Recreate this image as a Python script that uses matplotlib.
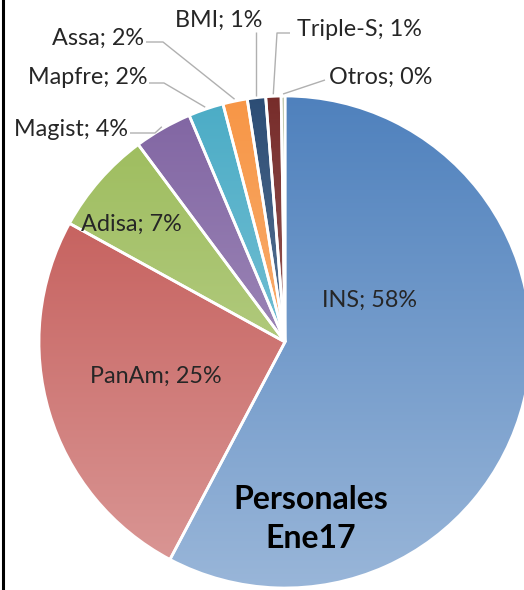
import numpy as np
import matplotlib.pyplot as plt
from matplotlib.colors import to_rgb

labels = ["INS", "PanAm", "Adisa", "Magist", "Mapfre", "Assa", "BMI", "Triple-S", "Otros"]
values = [57.6, 25.2, 6.8, 3.8, 2.3, 1.6, 1.2, 1.0, 0.25]
pct_text = ["58%", "25%", "7%", "4%", "2%", "2%", "1%", "1%", "0%"]
colors = ["#4F81BD", "#C0504D", "#9BBB59", "#8064A2", "#4BACC6",
          "#F79646", "#2C4D75", "#772C2A", "#5F7530"]
title = "Personales\nEne17"

W, H = 524, 590
fig = plt.figure(figsize=(W / 100, H / 100), dpi=100)
ax = fig.add_axes([0, 0, 1, 1])

cx, cy, r = 285, 342, 246
wedges, _ = ax.pie(values, startangle=-90, counterclock=True, center=(cx, cy),
                   radius=r, colors=colors, frame=True,
                   wedgeprops=dict(edgecolor="white", linewidth=2.0))

N = 256
t = np.linspace(0, 1, N)[:, None]
for w, c in zip(wedges, colors):
    base = np.array(to_rgb(c))
    grad = base[None, :] + (1 - base[None, :]) * (0.42 * t)
    img = grad[:, None, :]
    im = ax.imshow(img, extent=(cx - r, cx + r, cy + r, cy - r), origin="upper",
                   aspect="auto", zorder=1, interpolation="bilinear")
    im.set_clip_path(w)
    w.set_facecolor("none")
    w.set_zorder(2)
ax.set_xlim(0, W)
ax.set_ylim(H, 0)
ax.axis("off")

font = ["Lato", "DejaVu Sans"]
tc = "#262626"
fs = 16.8

# inside labels
inside = {0: (370, 300), 1: (156, 376), 2: (131, 224)}
for i, (x, y) in inside.items():
    ax.text(x, y, f"{labels[i]}; {pct_text[i]}", ha="center", va="center",
            fontsize=fs, family=font, color=tc, zorder=5)

# outside labels with leader lines
total = sum(values)
cum = np.cumsum([0] + values)
def edge_point(i, frac=0.5, rr=r):
    th = np.deg2rad(-90 + 360 * (cum[i] + frac * values[i]) / total)
    return cx + rr * np.cos(th), cy + rr * np.sin(th)

outside = {
    3: dict(text=(128, 130), ha="right", bend=(155, 133)),
    4: dict(text=(147, 78), ha="right", bend=(164, 83)),
    5: dict(text=(144, 38), ha="right", bend=(163, 42)),
    6: dict(text=(219, 20), ha="center", bend=(252, 32)),
    7: dict(text=(297, 29), ha="left", bend=(290, 33)),
    8: dict(text=(329, 77), ha="left", bend=(325, 80)),
}
lc = "#b0b0b0"
for i, d in outside.items():
    tx, ty = d["text"]
    ax.text(tx, ty, f"{labels[i]}; {pct_text[i]}", ha=d["ha"], va="center",
            fontsize=fs, family=font, color=tc, zorder=5)
    ex, ey = edge_point(i, rr=r + 2)
    bx, by = d["bend"]
    if i in (3, 4, 5):
        xs = [tx + 2, bx, ex]
        ys = [by, by, ey]
    elif i == 6:
        xs = [ex, ex]
        ys = [by, ey]
    elif i == 7:
        xs = [bx, bx - 13, ex]
        ys = [by, by, ey]
    else:
        xs = [bx, ex]
        ys = [by, ey]
    ax.plot(xs, ys, color=lc, lw=1.0, zorder=4, solid_capstyle="butt")

ax.text(311, 519, title, ha="center", va="center", fontsize=23, fontweight="bold",
        family=font, color="black", linespacing=1.42, zorder=5)

# left border
ax.plot([2.5, 2.5], [0, H], color="black", lw=2.2, zorder=6, clip_on=False)

fig.savefig("out.png", dpi=100)
